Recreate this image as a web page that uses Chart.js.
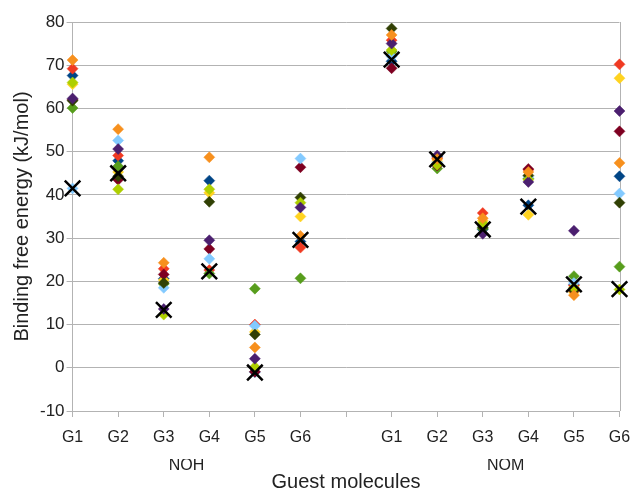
<!DOCTYPE html>
<html><head><meta charset="utf-8">
<script src="https://cdn.jsdelivr.net/npm/chart.js@4"></script>
<style>html,body{margin:0;padding:0;background:#fff}#wrap{width:633px;height:492px}</style>
</head><body><div id="wrap"><canvas id="c"></canvas></div>
<script>
// x positions 0..12: NOH G1..G6, gap, NOM G1..G6
const categories = ['G1','G2','G3','G4','G5','G6','','G1','G2','G3','G4','G5','G6'];
const groupLabels = ['NOH','NOM'];
const groupCenters = [2.5, 9.5];

const reference = [41.5, 45.0, 13.4, 22.3, -1.1, 29.6, null, 71.3, 48.2, 32.0, 37.3, 19.3, 18.2];
const darkBlue  = [67.6, 47.9, 20.6, 43.3, -1.0, 29.2, null, 70.9, 48.8, 32.0, 37.6, 19.2, 44.3];
const red       = [69.2, 49.1, 22.9, 22.6, 10.0, 27.8, null, 75.8, 48.5, 35.8, 45.8, 19.0, 70.2];
const yellow    = [65.6, 45.3, 20.3, 40.5,  8.3, 35.0, null, 72.5, 47.8, 34.0, 35.4, 17.5, 67.0];
const green     = [60.1, 46.6, 19.4, 21.8, 18.3, 20.7, null, 73.2, 46.1, 32.2, 43.8, 21.2, 23.4];
const maroon    = [62.0, 43.5, 21.6, 27.5, -0.9, 46.4, null, 69.3, 46.8, 33.0, 46.0, 17.8, 54.7];
const lightBlue = [41.5, 52.6, 18.5, 25.2,  9.7, 48.4, null, 72.0, 47.5, 32.8, 44.2, 19.6, 40.3];
const darkOlive = [61.8, 44.3, 19.6, 38.4,  7.7, 39.4, null, 78.5, 47.2, 32.5, 44.5, 18.0, 38.2];
const lime      = [66.0, 41.3, 12.3, 41.3,  0.2, 38.2, null, 73.5, 47.0, 33.4, 43.5, 18.5, 18.1];
const purple    = [62.3, 50.6, 13.6, 29.5,  2.1, 37.1, null, 75.0, 49.1, 31.0, 43.0, 31.7, 59.4];
const orange    = [71.2, 55.2, 24.3, 48.7,  4.7, 30.5, null, 77.0, 48.3, 34.6, 45.3, 16.8, 47.4];

function pts(arr){ const o=[]; arr.forEach((v,i)=>{ if(v!==null) o.push({x:i,y:v}); }); return o; }
function diamond(label, arr, color){
  return {label, data: pts(arr), pointStyle:'rectRot', pointRadius:5.5, pointHoverRadius:5.5,
    backgroundColor:color, borderColor:color, borderWidth:0.5, showLine:false, clip:false};
}
// first dataset is drawn on top in Chart.js
const datasets = [
  {label:'Reference', data: pts(reference), pointStyle:'crossRot', pointRadius:11, pointHoverRadius:11,
   borderColor:'#000', backgroundColor:'#000', borderWidth:2.5, showLine:false, clip:false},
  diamond('S10', orange, '#f7901e'),
  diamond('S9', purple, '#4b1f6f'),
  diamond('S8', lime, '#aecf00'),
  diamond('S7', darkOlive, '#314004'),
  diamond('S6', lightBlue, '#83caff'),
  diamond('S5', maroon, '#7e0021'),
  diamond('S4', green, '#579d1c'),
  diamond('S3', yellow, '#ffd320'),
  diamond('S2', red, '#f03a22'),
  diamond('S1', darkBlue, '#004586'),
];

const frame = {id:'frame', beforeDatasetsDraw(chart){
  const a = chart.chartArea, ctx = chart.ctx;
  ctx.save(); ctx.strokeStyle='#b3b3b3'; ctx.lineWidth=1;
  ctx.beginPath(); ctx.moveTo(Math.round(a.right)+0.5, a.top); ctx.lineTo(Math.round(a.right)+0.5, a.bottom); ctx.stroke();
  ctx.restore();
}};

new Chart(document.getElementById('c'), {
  type:'scatter',
  data:{datasets},
  plugins:[frame],
  options:{
    responsive:true, maintainAspectRatio:false, animation:false,
    layout:{padding:{top:22, right:0, left:10, bottom:0}},
    plugins:{legend:{display:false}, tooltip:{enabled:false}},
    scales:{
      x:{type:'linear', position:'bottom', min:0, max:12,
        afterBuildTicks(s){ s.ticks = categories.map((c,i)=>({value:i})); },
        ticks:{autoSkip:false, maxRotation:0, color:'#222', font:{family:'Liberation Sans', size:16, lineHeight:2.5}, padding:1,
          callback:(v)=>categories[v] ?? ''},
        grid:{drawOnChartArea:false, drawTicks:true, tickLength:6, color:'#b3b3b3'},
        border:{color:'#b3b3b3'}
      },
      x2:{type:'linear', position:'bottom', min:0, max:12,
        afterBuildTicks(s){ s.ticks = groupCenters.map(v=>({value:v})); },
        ticks:{autoSkip:false, maxRotation:0, color:'#222', font:{family:'Liberation Sans', size:16, lineHeight:1}, padding:-1.5,
          callback:(v)=>groupLabels[groupCenters.indexOf(v)] ?? ''},
        grid:{display:false, drawTicks:false, tickLength:0}, border:{display:false},
        title:{display:true, text:'Guest molecules', color:'#222', font:{family:'Liberation Sans', size:20, lineHeight:1}, padding:{top:0,bottom:0}}
      },
      y:{min:-10, max:80,
        ticks:{stepSize:10, color:'#222', font:{family:'Liberation Sans', size:17}, padding:2},
        grid:{color:'#b3b3b3', tickLength:6},
        border:{color:'#b3b3b3'},
        title:{display:true, text:'Binding free energy (kJ/mol)', color:'#222', font:{family:'Liberation Sans', size:20}, padding:{top:0,bottom:4}}
      }
    }
  }
});
</script></body></html>
